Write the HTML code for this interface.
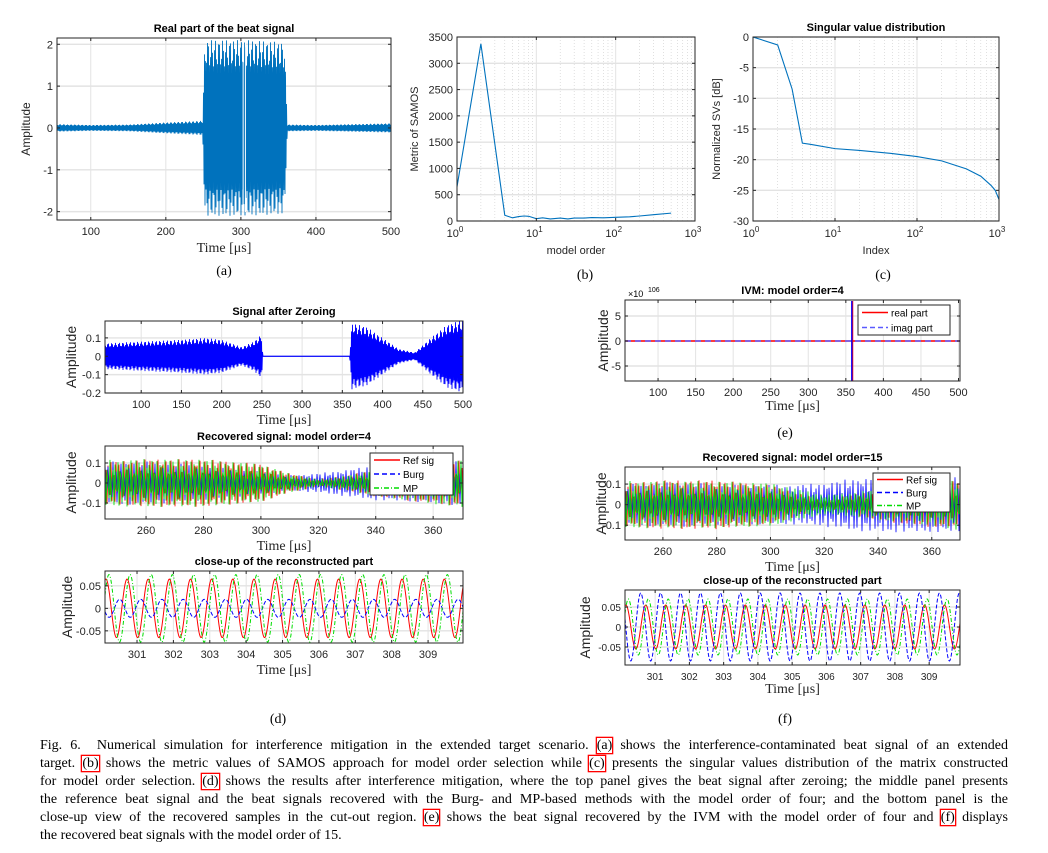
<!DOCTYPE html>
<html><head><meta charset="utf-8"><style>
html,body{margin:0;padding:0;background:#fff;width:1048px;height:853px;overflow:hidden}
svg{position:absolute;left:0;top:0}
#cap{position:absolute;left:40px;top:737px;width:968px;font-family:"Liberation Serif",serif;font-size:14px;line-height:18px;color:#000}
#cap .ln{display:block;text-align:justify;text-align-last:justify;white-space:nowrap}
#cap .ln.last{text-align-last:left}
#cap .rb{box-shadow:0 0 0 1.3px #ff0000}
</style></head><body>
<svg id="fig" width="1048" height="853" xmlns="http://www.w3.org/2000/svg" font-family="Liberation Sans, sans-serif"></svg>
<div id="cap">
<span class="ln" style="white-space:normal">Fig. 6.&nbsp; Numerical simulation for interference mitigation in the extended target scenario. <span class="rb">(a)</span> shows the interference-contaminated beat signal of an extended</span>
<span class="ln" style="white-space:normal">target. <span class="rb">(b)</span> shows the metric values of SAMOS approach for model order selection while <span class="rb">(c)</span> presents the singular values distribution of the matrix constructed</span>
<span class="ln" style="white-space:normal">for model order selection. <span class="rb">(d)</span> shows the results after interference mitigation, where the top panel gives the beat signal after zeroing; the middle panel presents</span>
<span class="ln" style="white-space:normal">the reference beat signal and the beat signals recovered with the Burg- and MP-based methods with the model order of four; and the bottom panel is the</span>
<span class="ln" style="white-space:normal">close-up view of the recovered samples in the cut-out region. <span class="rb">(e)</span> shows the beat signal recovered by the IVM with the model order of four and <span class="rb">(f)</span> displays</span>
<span class="ln last">the recovered beat signals with the model order of 15.</span>
</div>
<script>
// ---- data ----
const aTimes=[55,100,150,200,249,252,300,304,306,310,358,362,400,450,500];
const aEnv=[0.09,0.07,0.08,0.13,0.17,2.1,2.1,2.1,2.1,2.1,2.05,0.08,0.07,0.09,0.11];
const bOrders=[1,2,4,5,6,7,8,10,12,15,20,25,30,40,50,70,100,150,200,300,500];
const bValues=[650,3370,110,60,85,95,90,45,60,40,55,40,55,55,65,60,70,80,95,120,150];
const cIndex=[1,2,3,4,5,10,20,50,100,200,400,600,800,900,1000];
const cValues=[0,-1.3,-8.5,-17.3,-17.5,-18.2,-18.5,-19,-19.5,-20.2,-21.5,-22.7,-24.2,-25,-26.5];
const dTopTimes=[55,100,150,180,200,225,240,250,251,359,362,380,400,420,440,460,480,500];
const dTopEnv=[0.07,0.08,0.09,0.1,0.09,0.05,0.08,0.12,0,0,0.18,0.16,0.1,0.04,0.02,0.1,0.17,0.2];
const midTimes=[245,260,270,280,300,310,320,330,340,355,370];
const dRefEnv=[0.11,0.125,0.125,0.125,0.1,0.05,0.02,0.04,0.07,0.1,0.12];
const dBurgEnv=[0.11,0.11,0.1,0.09,0.06,0.04,0.05,0.07,0.09,0.1,0.12];
const dMpEnv=[0.12,0.125,0.125,0.125,0.1,0.05,0.02,0.04,0.07,0.1,0.13];
const fRefEnv=[0.11,0.125,0.125,0.125,0.1,0.06,0.02,0.05,0.08,0.11,0.12];
const fBurgEnv=[0.1,0.11,0.11,0.1,0.1,0.1,0.11,0.13,0.14,0.14,0.14];
const fMpEnv=[0.12,0.12,0.12,0.12,0.11,0.08,0.05,0.06,0.08,0.1,0.13];
const closeFreq=[1.72,1.72,1.72];           // cycles per microsecond
const dCloseAmp=[0.065,0.02,0.075];         // ref, burg, mp
const dClosePhase=[0,2.2,-0.9];
const fCloseAmp=[0.055,0.085,0.07];
const fClosePhase=[0,1.6,-0.8];
const ivmSpikeT=358, ivmSpikeAmp=8;
const colBlue='#0072BD';
// ---- helpers ----
const NS='http://www.w3.org/2000/svg', svg=document.getElementById('fig');
let clipN=0;
function el(tag,attrs,parent,txt){const e=document.createElementNS(NS,tag);for(const k in attrs)e.setAttribute(k,attrs[k]);if(txt!==undefined)e.textContent=txt;(parent||svg).appendChild(e);return e;}
function interp(ts,vs,t){if(t<=ts[0])return vs[0];for(let i=1;i<ts.length;i++){if(t<=ts[i]){const f=(t-ts[i-1])/(ts[i]-ts[i-1]);return vs[i-1]+f*(vs[i]-vs[i-1]);}}return vs[vs.length-1];}
function axes(c){
  const g=el('g',{});
  
  
  const tx=c.xlog?(v=>Math.log10(v)):(v=>v);
  const sx=v=>c.x0+(tx(v)-tx(c.xmin))/(tx(c.xmax)-tx(c.xmin))*(c.x1-c.x0);
  const sy=v=>c.y1-(v-c.ymin)/(c.ymax-c.ymin)*(c.y1-c.y0);
  el('rect',{x:c.x0,y:c.y0,width:c.x1-c.x0,height:c.y1-c.y0,fill:'#fff'},g);
  if(c.xlog){for(let d=0;d<3;d++)for(let m=2;m<10;m++){const x=sx(m*Math.pow(10,d));el('line',{x1:x,x2:x,y1:c.y0,y2:c.y1,stroke:'#ccc','stroke-width':0.6,'stroke-dasharray':'1,2'},g);}}
  c.xticks.forEach(v=>{const x=sx(v);el('line',{x1:x,x2:x,y1:c.y0,y2:c.y1,stroke:'#e3e3e3','stroke-width':1},g);});
  c.yticks.forEach(v=>{const y=sy(v);el('line',{x1:c.x0,x2:c.x1,y1:y,y2:y,stroke:'#e3e3e3','stroke-width':1.4},g);});
  const id='clip'+(clipN++);
  const cp=el('clipPath',{id:id},g);el('rect',{x:c.x0,y:c.y0,width:c.x1-c.x0,height:c.y1-c.y0},cp);
  const plot=el('g',{'clip-path':'url(#'+id+')'},g);
  const fs=c.fs||11;
  c.xticks.forEach((v,i)=>{const x=sx(v);el('line',{x1:x,x2:x,y1:c.y1,y2:c.y1-3,stroke:'#262626'},g);el('line',{x1:x,x2:x,y1:c.y0,y2:c.y0+3,stroke:'#262626'},g);
    if(c.xlog){const t=el('text',{x:x-2,y:c.y1+16,'font-size':fs,'text-anchor':'middle',fill:'#262626'},g,'10');el('tspan',{dy:-5,'font-size':8},t,String(Math.round(Math.log10(v))));}
    else el('text',{x:x,y:c.y1+15,'font-size':fs,'text-anchor':'middle',fill:'#262626'},g,c.xtl?c.xtl[i]:String(v));});
  c.yticks.forEach((v,i)=>{const y=sy(v);el('line',{x1:c.x0,x2:c.x0+3,y1:y,y2:y,stroke:'#262626'},g);el('line',{x1:c.x1,x2:c.x1-3,y1:y,y2:y,stroke:'#262626'},g);
    el('text',{x:c.x0-4,y:y+4,'font-size':fs,'text-anchor':'end',fill:'#262626'},g,c.ytl?c.ytl[i]:String(v));});
  el('rect',{x:c.x0,y:c.y0,width:c.x1-c.x0,height:c.y1-c.y0,fill:'none',stroke:'#262626','stroke-width':1},g);
  if(c.title){const t=el('text',{x:(c.x0+c.x1)/2,y:c.y0-6,'font-size':11,'font-weight':'bold','text-anchor':'middle'},g,c.title);}
  if(c.xlabel){const t=el('text',{x:(c.x0+c.x1)/2,y:c.xly,'font-size':c.xlfs||14,'text-anchor':'middle','font-family':c.xlserif?'Liberation Serif, serif':'Liberation Sans, sans-serif',fill:'#262626'},g,c.xlabel);}
  if(c.ylabel){const cx=c.ylx,cy=(c.y0+c.y1)/2;const t=el('text',{x:cx,y:cy,'font-size':c.ylfs||11,'text-anchor':'middle',transform:'rotate(-90 '+cx+' '+cy+')',fill:'#262626'},g,c.ylabel);}
  return {sx,sy,plot,c,g};
}
function osc(A,ts,env,color,w,kPhase,step){
  const c=A.c;let pts=[];let i=0;
  for(let px=c.x0;px<=c.x1;px+=step){const t=c.xmin+(px-c.x0)/(c.x1-c.x0)*(c.xmax-c.xmin);const e=interp(ts,env,t);const v=e*Math.sin(i*2.4+kPhase)*(0.8+0.2*Math.abs(Math.sin(i*0.37+kPhase)));pts.push(px.toFixed(1)+','+A.sy(v).toFixed(1));i++;}
  const p=el('polyline',{points:pts.join(' '),fill:'none',stroke:color,'stroke-width':w},A.plot);return p;
}
function envFill(A,ts,env,color){
  const c=A.c;let pts=[];
  for(let px=c.x0;px<=c.x1;px+=0.5){const t=c.xmin+(px-c.x0)/(c.x1-c.x0)*(c.xmax-c.xmin);const e=interp(ts,env,t);const s=(Math.round(px*2)%2)?1:-1;pts.push(px+','+A.sy(s*e*(0.85+0.15*Math.sin(px*1.7))).toFixed(1));}
  el('polyline',{points:pts.join(' '),fill:'none',stroke:color,'stroke-width':0.9},A.plot);
}
function sine(A,amp,f,ph,color,dash,w){
  const c=A.c;let pts=[];
  for(let px=c.x0;px<=c.x1;px+=0.5){const t=c.xmin+(px-c.x0)/(c.x1-c.x0)*(c.xmax-c.xmin);pts.push(px+','+A.sy(amp*Math.sin(2*Math.PI*f*t+ph)).toFixed(1));}
  const p=el('polyline',{points:pts.join(' '),fill:'none',stroke:color,'stroke-width':w||1,'stroke-dasharray':dash||'none'},A.plot);return p;
}
function legend(x,y,w,h,items){
  const g=el('g',{});
  
  
  el('rect',{x:x,y:y,width:w,height:h,fill:'#fff',stroke:'#262626'},g);
  const dy=h/items.length;
  items.forEach((it,i)=>{const yy=y+dy*(i+0.5);const ent=el('g',{},g);
    
    
    el('line',{x1:x+4,x2:x+30,y1:yy,y2:yy,stroke:it[1],'stroke-width':1.5,'stroke-dasharray':it[2]},ent);
    el('text',{x:x+33,y:yy+4,'font-size':10},ent,it[0]);});
}
function sub(x,y,s){const t=el('text',{x:x,y:y,'font-size':14,'font-family':'Liberation Serif, serif','text-anchor':'middle'},svg,s);}

// ---- (a) ----
const A=axes({name:'panel-a',x0:57,x1:391,y0:38,y1:220,xmin:55,xmax:500,ymin:-2.2,ymax:2.15,xticks:[100,200,300,400,500],yticks:[-2,-1,0,1,2],title:'Real part of the beat signal',xlabel:'Time [μs]',xly:252,xlserif:true,ylabel:'Amplitude',ylx:30,ylfs:12});
envFill(A,aTimes,aEnv,colBlue);
[303,306].forEach(t=>el('line',{x1:A.sx(t),x2:A.sx(t),y1:40,y2:212,stroke:'#fff','stroke-width':1},A.plot));
sub(224,275,'(a)');
// ---- (b) ----
const B=axes({name:'panel-b',x0:457,x1:695,y0:37,y1:221,xmin:1,xmax:1000,xlog:true,ymin:0,ymax:3500,xticks:[1,10,100,1000],yticks:[0,500,1000,1500,2000,2500,3000,3500],xlabel:'model order',xly:254,xlfs:11,ylabel:'Metric of SAMOS',ylx:418});
el('polyline',{points:bOrders.map((o,i)=>B.sx(o)+','+B.sy(bValues[i])).join(' '),fill:'none',stroke:colBlue,'stroke-width':1.1},B.plot);
sub(585,279,'(b)');
// ---- (c) ----
const C=axes({name:'panel-c',x0:753,x1:999,y0:37,y1:221,xmin:1,xmax:1000,xlog:true,ymin:-30,ymax:0,xticks:[1,10,100,1000],yticks:[-30,-25,-20,-15,-10,-5,0],title:'Singular value distribution',xlabel:'Index',xly:254,xlfs:11,ylabel:'Normalized SVs [dB]',ylx:720});
el('polyline',{points:cIndex.map((o,i)=>C.sx(o)+','+C.sy(cValues[i])).join(' '),fill:'none',stroke:colBlue,'stroke-width':1.1},C.plot);
sub(883,279,'(c)');
// ---- (d top) ----
const D1=axes({name:'panel-d-zeroing',x0:105,x1:463,y0:321,y1:393,xmin:55,xmax:500,ymin:-0.2,ymax:0.192,xticks:[100,150,200,250,300,350,400,450,500],yticks:[-0.2,-0.1,0,0.1],title:'Signal after Zeroing',xlabel:'Time [μs]',xly:424,xlserif:true,ylabel:'Amplitude',ylx:76,ylfs:14});
envFill(D1,dTopTimes,dTopEnv,'#0000ff');
el('line',{x1:D1.sx(250),x2:D1.sx(360),y1:D1.sy(0),y2:D1.sy(0),stroke:'#0000ff'},D1.plot);
// ---- (d mid) ----
const D2=axes({name:'panel-d-recovered',x0:105,x1:463,y0:446,y1:519,xmin:245.7,xmax:370.4,ymin:-0.18,ymax:0.185,xticks:[260,280,300,320,340,360],yticks:[-0.1,0,0.1],title:'Recovered signal: model order=4',xlabel:'Time [μs]',xly:550,xlserif:true,ylabel:'Amplitude',ylx:76,ylfs:14});
osc(D2,midTimes,dRefEnv,'#ff0000',0.8,0,1);
osc(D2,midTimes,dBurgEnv,'#0000ff',0.8,1.3,1);
osc(D2,midTimes,dMpEnv,'#00dd00',0.8,2.2,1);
legend(370,453,83,42,[['Ref sig','#ff0000','none'],['Burg','#0000ff','5,3'],['MP','#00dd00','5,2,1,2']]);
// ---- (d bottom) ----
const D3=axes({name:'panel-d-closeup',x0:105,x1:463,y0:571,y1:643,xmin:300.12,xmax:309.96,ymin:-0.077,ymax:0.083,xticks:[301,302,303,304,305,306,307,308,309],yticks:[-0.05,0,0.05],title:'close-up of the reconstructed part',xlabel:'Time [μs]',xly:674,xlserif:true,ylabel:'Amplitude',ylx:72,ylfs:14});
sine(D3,dCloseAmp[0],closeFreq[0],dClosePhase[0],'#ff0000','none',1);
sine(D3,dCloseAmp[1],closeFreq[1],dClosePhase[1],'#0000ff','4,2',1);
sine(D3,dCloseAmp[2],closeFreq[2],dClosePhase[2],'#00dd00','4,2,1,2',1);
sub(278,723,'(d)');
// ---- (e) ----
const E=axes({name:'panel-e',x0:625,x1:960,y0:300,y1:381,xmin:56,xmax:502,ymin:-8,ymax:8.2,xticks:[100,150,200,250,300,350,400,450,500],yticks:[-5,0,5],title:'IVM: model order=4',xlabel:'Time [μs]',xly:410,xlserif:true,ylabel:'Amplitude',ylx:608,ylfs:14});
el('text',{x:628,y:297,'font-size':9},svg,'×10');
el('text',{x:648,y:292,'font-size':7},svg,'106');
el('line',{x1:E.sx(56),x2:E.sx(502),y1:E.sy(0),y2:E.sy(0),stroke:'#ff0000','stroke-width':1.5},E.plot);
el('line',{x1:E.sx(56),x2:E.sx(502),y1:E.sy(0),y2:E.sy(0),stroke:'#5a5aff','stroke-width':1.5,'stroke-dasharray':'6,4'},E.plot);
el('line',{x1:E.sx(ivmSpikeT),x2:E.sx(ivmSpikeT),y1:E.sy(ivmSpikeAmp),y2:E.sy(-ivmSpikeAmp),stroke:'#0000ff','stroke-width':1.5},E.plot);
el('line',{x1:E.sx(ivmSpikeT)+1,x2:E.sx(ivmSpikeT)+1,y1:E.sy(ivmSpikeAmp),y2:E.sy(-ivmSpikeAmp),stroke:'#ff0000','stroke-width':0.8},E.plot);
legend(858,305,92,30,[['real part','#ff0000','none'],['imag part','#5a5aff','5,3']]);
sub(785,437,'(e)');
// ---- (f mid) ----
const F1=axes({name:'panel-f-recovered',x0:625,x1:960,y0:467,y1:540,xmin:245.9,xmax:370.5,ymin:-0.172,ymax:0.183,xticks:[260,280,300,320,340,360],yticks:[-0.1,0,0.1],title:'Recovered signal: model order=15',xlabel:'Time [μs]',xly:571,xlserif:true,ylabel:'Amplitude',ylx:606,ylfs:14});
osc(F1,midTimes,fRefEnv,'#ff0000',0.8,0,1);
osc(F1,midTimes,fBurgEnv,'#0000ff',0.8,1.3,1);
osc(F1,midTimes,fMpEnv,'#00dd00',0.8,2.2,1);
legend(873,473,77,39,[['Ref sig','#ff0000','none'],['Burg','#0000ff','5,3'],['MP','#00dd00','5,2,1,2']]);
// ---- (f bottom) ----
const F2=axes({name:'panel-f-closeup',x0:625,x1:960,y0:590,y1:665,xmin:300.12,xmax:309.9,ymin:-0.095,ymax:0.0925,xticks:[301,302,303,304,305,306,307,308,309],yticks:[-0.05,0,0.05],title:'close-up of the reconstructed part',xlabel:'Time [μs]',xly:693,xlserif:true,ylabel:'Amplitude',ylx:590,ylfs:14,fs:10});
sine(F2,fCloseAmp[0],closeFreq[0],fClosePhase[0],'#ff0000','none',1);
sine(F2,fCloseAmp[1],closeFreq[1],fClosePhase[1],'#0000ff','4,2',1);
sine(F2,fCloseAmp[2],closeFreq[2],fClosePhase[2],'#00dd00','4,2,1,2',1);
sub(785,723,'(f)');
</script>
</body></html>
